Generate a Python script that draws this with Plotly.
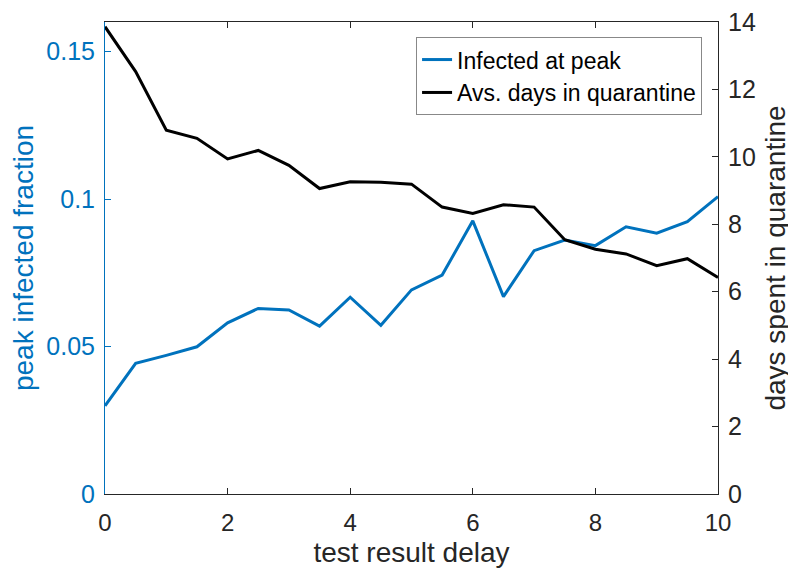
import plotly.graph_objects as go

delay = [0, 0.5, 1, 1.5, 2, 2.5, 3, 3.5, 4, 4.5, 5, 5.5, 6, 6.5, 7, 7.5, 8, 8.5, 9, 9.5, 10]
infected_peak = [0.0299, 0.0443, 0.0470, 0.0499, 0.0580, 0.0629, 0.0624, 0.0569, 0.0667, 0.0572,
                 0.0692, 0.0742, 0.0926, 0.0669, 0.0825, 0.0861, 0.0842, 0.0906, 0.0884, 0.0923, 0.1008]
days_quarantine = [13.86, 12.53, 10.79, 10.55, 9.94, 10.19, 9.75, 9.06, 9.26, 9.25,
                   9.19, 8.51, 8.32, 8.58, 8.51, 7.54, 7.26, 7.12, 6.77, 6.98, 6.42]

left_ticks = [0, 0.05, 0.1, 0.15]
left_ticktext = ["0", "0.05", "0.1", "0.15"]
right_ticks = [0, 2, 4, 6, 8, 10, 12, 14]
x_ticks = [0, 2, 4, 6, 8, 10]

BLUE = "#0072BD"
DARK = "#262626"
FONT = "Liberation Sans, Arial, Helvetica, sans-serif"

fig = go.Figure()
fig.add_trace(go.Scatter(x=delay, y=infected_peak, mode="lines", name="Infected at peak",
                         line=dict(color=BLUE, width=3), yaxis="y"))
fig.add_trace(go.Scatter(x=delay, y=days_quarantine, mode="lines", name="Avs. days in quarantine",
                         line=dict(color="black", width=3), yaxis="y2"))

fig.update_layout(
    template="none",
    width=796, height=571,
    margin=dict(l=97, r=86, t=14, b=85, pad=0),
    paper_bgcolor="white", plot_bgcolor="white",
    font=dict(family=FONT, size=25, color=DARK),
    xaxis=dict(range=[0, 10], tickvals=x_ticks, ticks="inside", ticklen=6, tickcolor=DARK,
               showline=True, linecolor=DARK, linewidth=1, mirror="ticks", showgrid=False,
               zeroline=False, automargin=False, tickfont=dict(size=24, color=DARK),
               ticklabelstandoff=7, ticklabeloverflow="allow",
               title=dict(text="test result delay", font=dict(size=28, color=DARK), standoff=7)),
    yaxis=dict(range=[0, 0.16], tickvals=left_ticks, ticktext=left_ticktext, ticks="inside",
               ticklen=6, tickcolor=BLUE, showline=True, linecolor=BLUE, linewidth=1,
               showgrid=False, zeroline=False, automargin=False, tickfont=dict(size=25, color=BLUE),
               ticklabelstandoff=4, ticklabeloverflow="allow",
               title=dict(text="peak infected fraction", font=dict(size=28, color=BLUE), standoff=14)),
    yaxis2=dict(range=[0, 14], tickvals=right_ticks, ticks="inside", ticklen=6, tickcolor=DARK,
                showline=True, linecolor=DARK, linewidth=1, overlaying="y", side="right",
                showgrid=False, zeroline=False, automargin=False, tickfont=dict(size=25, color=DARK),
                ticklabelstandoff=4, ticklabeloverflow="allow",
                title=dict(text="days spent in quarantine", font=dict(size=28, color=DARK), standoff=10)),
    legend=dict(x=0.974, y=0.968, xanchor="right", yanchor="top", bgcolor="white",
                bordercolor="#888888", borderwidth=1, font=dict(size=23, color="black"),
                tracegroupgap=0),
    showlegend=True,
)

fig.write_html("out.html")
